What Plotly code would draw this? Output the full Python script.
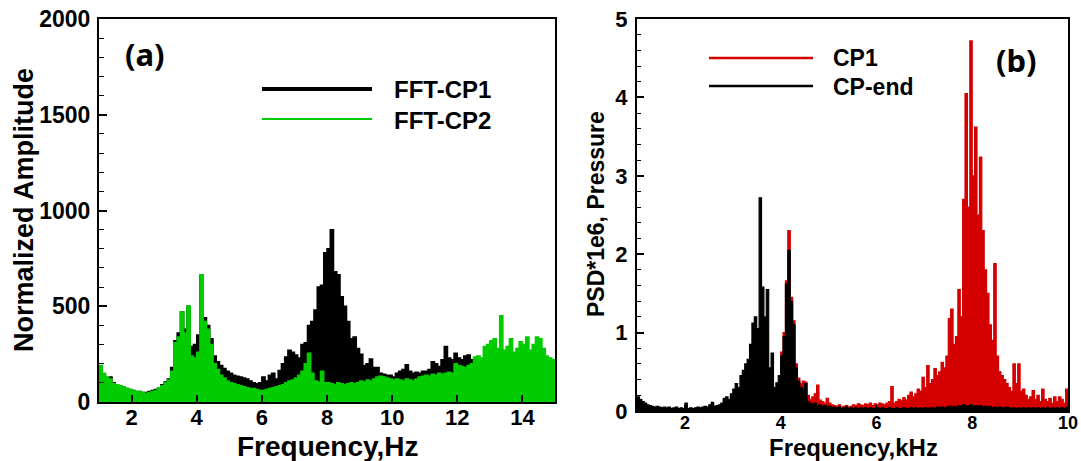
import plotly.graph_objects as go

# ---------------- Panel (a) data: frequency in Hz, step 0.1 ----------------
freq_a = [round(1.0 + 0.1 * i, 2) for i in range(141)]

fft_cp1 = [
    170, 140, 120, 130, 100, 90, 85, 80, 70, 65,
    60, 55, 55, 50, 50, 55, 60, 65, 75, 90,
    105, 120, 180, 320, 360, 470, 380, 500, 290, 300,
    350, 660, 440, 400, 330, 240, 210, 190, 175, 160,
    150, 140, 135, 130, 125, 120, 110, 100, 95, 100,
    130, 110, 140, 150, 120, 165, 200, 235, 270, 260,
    245, 230, 300, 310, 400, 420, 480, 600, 610, 780,
    800, 900, 680, 665, 550, 500, 420, 330, 340, 280,
    250, 190, 200, 225, 180, 180, 150, 145, 140, 140,
    130, 150, 160, 170, 195, 160, 150, 155, 150, 160,
    160, 170, 210, 200, 185, 220, 290, 230, 220, 255,
    230, 220, 240, 245, 220, 210, 200, 170, 160, 150,
    150, 160, 145, 150, 165, 155, 150, 160, 145, 155,
    160, 150, 165, 150, 155, 160, 145, 150, 160, 150,
    155,
]

fft_cp2 = [
    190, 150, 130, 120, 95, 90, 85, 80, 70, 65,
    60, 55, 55, 50, 45, 50, 55, 60, 75, 85,
    100, 115, 160, 310, 340, 470, 360, 500, 240, 230,
    260, 665, 420, 380, 300, 200, 170, 140, 125, 110,
    100, 95, 90, 85, 80, 75, 70, 70, 65, 60,
    60, 65, 70, 75, 80, 85, 90, 100, 110, 115,
    125, 140, 160, 200, 255, 150, 110, 105, 160, 100,
    100, 95, 90, 100, 95, 90, 95, 100, 95, 100,
    110, 105, 115, 110, 120, 130, 135, 130, 125, 120,
    115, 120, 115, 110, 120, 115, 110, 120, 130, 135,
    140, 135, 145, 140, 150, 145, 150, 155, 150, 200,
    190, 185, 180, 190, 200, 235, 240, 230, 290, 300,
    320, 330, 280, 450, 270, 290, 330, 260, 280, 315,
    300, 340, 270, 300, 340, 330, 280, 240, 230, 220,
    225,
]

# ---------------- Panel (b) data: frequency in kHz, step 0.05 ----------------
freq_b = [round(1.0 + 0.05 * i, 2) for i in range(181)]

psd_cp1 = [
    0.15, 0.12, 0.10, 0.08, 0.07, 0.06, 0.05, 0.04, 0.05, 0.04,
    0.03, 0.04, 0.03, 0.04, 0.03, 0.03, 0.04, 0.03, 0.03, 0.02,
    0.06, 0.03, 0.03, 0.02, 0.03, 0.04, 0.03, 0.04, 0.05, 0.04,
    0.06, 0.08, 0.05, 0.05, 0.06, 0.08, 0.10, 0.12, 0.10, 0.12,
    0.15, 0.18, 0.15, 0.20, 0.25, 0.22, 0.30, 0.35, 0.40, 0.45,
    0.35, 0.30, 0.45, 0.30, 0.20, 0.15, 0.20, 0.15, 0.25, 0.30,
    0.75, 1.00, 1.66, 2.30, 1.45, 1.15, 0.60, 0.42, 0.35, 0.38,
    0.37, 0.20, 0.15, 0.18, 0.22, 0.33, 0.14, 0.12, 0.10, 0.16,
    0.10, 0.08, 0.07, 0.06, 0.08, 0.05, 0.06, 0.07, 0.05, 0.06,
    0.08, 0.07, 0.09, 0.08, 0.07, 0.09, 0.08, 0.10, 0.07, 0.09,
    0.08, 0.10, 0.09, 0.08, 0.10, 0.12, 0.31, 0.10, 0.12, 0.15,
    0.13, 0.17, 0.14, 0.20, 0.24, 0.18, 0.22, 0.28, 0.25, 0.43,
    0.30, 0.58, 0.35, 0.40, 0.54, 0.45, 0.50, 0.62, 0.55, 0.70,
    1.18, 1.30, 0.85, 0.95, 1.55, 1.20, 2.70, 4.05, 2.60, 4.72,
    3.00, 3.62, 2.50, 3.24, 2.30, 1.80, 1.50, 1.10, 0.90, 1.88,
    0.70, 0.50, 0.45, 0.40, 0.35, 0.30, 0.25, 0.60, 0.35, 0.60,
    0.25, 0.28, 0.20, 0.15, 0.18, 0.26, 0.15, 0.20, 0.12, 0.28,
    0.15, 0.12, 0.16, 0.10, 0.18, 0.12, 0.18, 0.15, 0.10, 0.28,
    0.25,
]

psd_cp_end = [
    0.18, 0.15, 0.12, 0.10, 0.08, 0.07, 0.06, 0.05, 0.06, 0.05,
    0.04, 0.05, 0.04, 0.05, 0.03, 0.04, 0.05, 0.03, 0.04, 0.03,
    0.10, 0.03, 0.04, 0.03, 0.04, 0.05, 0.04, 0.05, 0.06, 0.05,
    0.08, 0.11, 0.06, 0.07, 0.08, 0.10, 0.16, 0.18, 0.15, 0.22,
    0.28, 0.35, 0.30, 0.45, 0.52, 0.60, 0.66, 0.85, 1.12, 1.20,
    1.05, 2.72, 1.58, 1.20, 1.55, 0.55, 0.74, 0.30, 0.36, 0.45,
    0.70, 0.95, 1.62, 2.05, 1.40, 1.10, 0.55, 0.38, 0.30, 0.28,
    0.35, 0.12, 0.10, 0.08, 0.10, 0.07, 0.08, 0.06, 0.07, 0.05,
    0.06, 0.04, 0.05, 0.04, 0.05, 0.03, 0.04, 0.05, 0.03, 0.04,
    0.03, 0.04, 0.03, 0.04, 0.03, 0.04, 0.03, 0.04, 0.03, 0.03,
    0.04, 0.03, 0.04, 0.03, 0.03, 0.04, 0.03, 0.03, 0.04, 0.03,
    0.03, 0.04, 0.03, 0.03, 0.04, 0.03, 0.04, 0.03, 0.04, 0.03,
    0.04, 0.03, 0.04, 0.04, 0.03, 0.05, 0.04, 0.05, 0.04, 0.05,
    0.06, 0.05, 0.06, 0.05, 0.07, 0.06, 0.08, 0.06, 0.07, 0.08,
    0.06, 0.07, 0.06, 0.07, 0.05, 0.06, 0.05, 0.06, 0.04, 0.05,
    0.04, 0.05, 0.04, 0.04, 0.05, 0.04, 0.03, 0.04, 0.03, 0.04,
    0.03, 0.04, 0.03, 0.04, 0.03, 0.04, 0.03, 0.04, 0.03, 0.04,
    0.03, 0.04, 0.03, 0.04, 0.03, 0.04, 0.03, 0.04, 0.03, 0.05,
    0.05,
]

ticks_a_x = [2, 4, 6, 8, 10, 12, 14]
ticks_a_y = [0, 500, 1000, 1500, 2000]
ticks_b_x = [2, 4, 6, 8, 10]
ticks_b_y = [0, 1, 2, 3, 4, 5]

BLACK = "#000000"
GREEN = "#00cc00"
RED = "#d40000"
FONT = "Liberation Sans"

W, H = 1081, 461

fig = go.Figure()

# Panel (a)
fig.add_trace(go.Scatter(x=freq_a, y=fft_cp1, xaxis="x", yaxis="y", mode="lines",
                         line=dict(color=BLACK, width=1.5, shape="hv"),
                         fill="tozeroy", fillcolor=BLACK, name="FFT-CP1", showlegend=False))
fig.add_trace(go.Scatter(x=freq_a, y=fft_cp2, xaxis="x", yaxis="y", mode="lines",
                         line=dict(color=GREEN, width=1.5, shape="hv"),
                         fill="tozeroy", fillcolor=GREEN, name="FFT-CP2", showlegend=False))

# Panel (b)
fig.add_trace(go.Scatter(x=freq_b, y=psd_cp1, xaxis="x2", yaxis="y2", mode="lines",
                         line=dict(color=RED, width=1.2, shape="hv"),
                         fill="tozeroy", fillcolor=RED, name="CP1", showlegend=False))
fig.add_trace(go.Scatter(x=freq_b, y=psd_cp_end, xaxis="x2", yaxis="y2", mode="lines",
                         line=dict(color=BLACK, width=1.2, shape="hv"),
                         fill="tozeroy", fillcolor=BLACK, name="CP-end", showlegend=False))


def px_x(p):
    return p / W


def px_y(p):
    return 1 - p / H


axis_common = dict(showline=True, linecolor="black", linewidth=2, mirror=True,
                   showgrid=False, zeroline=False, ticks="inside", tickcolor="black",
                   tickwidth=2, automargin=False)

fig.update_layout(
    width=W, height=H,
    margin=dict(l=0, r=0, t=0, b=0, pad=0, autoexpand=False),
    paper_bgcolor="white", plot_bgcolor="white",
    showlegend=False,
    xaxis=dict(domain=[px_x(99), px_x(555)], range=[1, 15], anchor="y",
               tickvals=ticks_a_x, ticklen=7, ticklabelstandoff=-5,
               tickfont=dict(family=FONT, size=22, color="black", weight="bold"),
               **axis_common),
    yaxis=dict(domain=[px_y(402), px_y(19)], range=[0, 2000], anchor="x",
               tickvals=ticks_a_y, ticklen=8, ticklabelstandoff=2,
               minor=dict(dtick=100, ticklen=5, ticks="inside", tickcolor="black", tickwidth=1),
               tickfont=dict(family=FONT, size=23, color="black", weight="bold"),
               **axis_common),
    xaxis2=dict(domain=[px_x(637), px_x(1068)], range=[1, 10], anchor="y2",
                tickvals=ticks_b_x, ticklen=6, ticklabelstandoff=-6,
                tickfont=dict(family=FONT, size=18, color="black", weight="bold"),
                **axis_common),
    yaxis2=dict(domain=[px_y(411), px_y(19)], range=[0, 5], anchor="x2",
                tickvals=ticks_b_y, ticklen=7, ticklabelstandoff=3,
                minor=dict(dtick=0.2, ticklen=4, ticks="inside", tickcolor="black", tickwidth=1),
                tickfont=dict(family=FONT, size=22, color="black", weight="bold"),
                **axis_common),
)

ann_font = lambda s: dict(family=FONT, size=s, color="black", weight="bold")

annotations = [
    # axis titles
    dict(text="Frequency,Hz", x=px_x(328), y=px_y(446), xref="paper", yref="paper",
         showarrow=False, font=ann_font(28), xanchor="center", yanchor="middle"),
    dict(text="Normalized Amplitude", x=px_x(24), y=px_y(210), xref="paper", yref="paper",
         showarrow=False, font=ann_font(27), textangle=-90, xanchor="center", yanchor="middle"),
    dict(text="Frequency,kHz", x=px_x(853), y=px_y(447), xref="paper", yref="paper",
         showarrow=False, font=ann_font(24), xanchor="center", yanchor="middle"),
    dict(text="PSD*1e6, Pressure", x=px_x(596), y=px_y(214), xref="paper", yref="paper",
         showarrow=False, font=ann_font(23), textangle=-90, xanchor="center", yanchor="middle"),
    # panel labels
    dict(text="(a)", x=px_x(145), y=px_y(54), xref="paper", yref="paper",
         showarrow=False, font=dict(family="Noto Sans", size=31, color="black", weight="bold"),
         xanchor="center", yanchor="middle"),
    dict(text="(b)", x=px_x(1016), y=px_y(60), xref="paper", yref="paper",
         showarrow=False, font=dict(family="Noto Sans", size=31, color="black", weight="bold"),
         xanchor="center", yanchor="middle"),
    # legend labels
    dict(text="FFT-CP1", x=px_x(392), y=px_y(89), xref="paper", yref="paper",
         showarrow=False, font=ann_font(24), xanchor="left", yanchor="middle"),
    dict(text="FFT-CP2", x=px_x(392), y=px_y(120), xref="paper", yref="paper",
         showarrow=False, font=ann_font(24), xanchor="left", yanchor="middle"),
    dict(text="CP1", x=px_x(831), y=px_y(58), xref="paper", yref="paper",
         showarrow=False, font=ann_font(23), xanchor="left", yanchor="middle"),
    dict(text="CP-end", x=px_x(831), y=px_y(87), xref="paper", yref="paper",
         showarrow=False, font=ann_font(23), xanchor="left", yanchor="middle"),
]

shapes = [
    dict(type="line", xref="paper", yref="paper", x0=px_x(262), x1=px_x(372),
         y0=px_y(89), y1=px_y(89), line=dict(color=BLACK, width=4)),
    dict(type="line", xref="paper", yref="paper", x0=px_x(262), x1=px_x(372),
         y0=px_y(119), y1=px_y(119), line=dict(color=GREEN, width=2)),
    dict(type="line", xref="paper", yref="paper", x0=px_x(709), x1=px_x(813),
         y0=px_y(58), y1=px_y(58), line=dict(color=RED, width=2.5)),
    dict(type="line", xref="paper", yref="paper", x0=px_x(709), x1=px_x(813),
         y0=px_y(86), y1=px_y(86), line=dict(color=BLACK, width=2.5)),
]

fig.update_layout(annotations=annotations, shapes=shapes)

fig.write_html("out.html")
